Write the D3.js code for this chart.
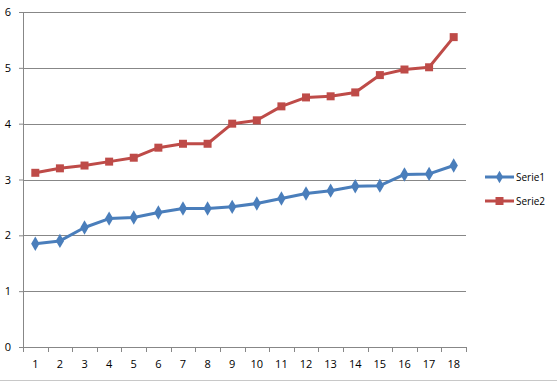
<!DOCTYPE html>
<html>
<head>
<meta charset="utf-8">
<script src="https://cdn.jsdelivr.net/npm/d3@7"></script>
<style>
  body { margin: 0; background: #fff; }
  text { font-family: "Open Sans", "Liberation Sans", sans-serif; fill: #000; }
</style>
</head>
<body>
<div id="chart"></div>
<script>
// Data
const categories = d3.range(1, 19).map(String);
const serie1 = [1.85, 1.90, 2.14, 2.30, 2.32, 2.41, 2.48, 2.48, 2.51, 2.57, 2.66, 2.75, 2.80, 2.88, 2.89, 3.09, 3.10, 3.25];
const serie2 = [3.12, 3.20, 3.25, 3.32, 3.39, 3.57, 3.64, 3.64, 4.00, 4.06, 4.31, 4.47, 4.49, 4.56, 4.87, 4.97, 5.01, 5.55];
const seriesNames = ['Serie1', 'Serie2'];
const yTicks = [0, 1, 2, 3, 4, 5, 6];

const W = 557, H = 381;
const margin = { top: 12, left: 23, right: 91, bottom: 34 };
const width = W - margin.left - margin.right,
  height = H - margin.top - margin.bottom;

const svg = d3.select('#chart').append('svg')
  .attr('width', W).attr('height', H);

// chart border (bottom edge visible)
svg.append('line')
  .attr('x1', 0).attr('x2', W).attr('y1', H - 0.5).attr('y2', H - 0.5)
  .attr('stroke', '#c8c8c8');

const g = svg.append('g')
  .attr('transform', 'translate(' + margin.left + ',' + margin.top + ')');

const x = d3.scaleBand().domain(categories).range([0, width]);
const y = d3.scaleLinear().domain([0, 6]).range([height, 0]);

// gridlines
g.selectAll('.grid')
  .data(yTicks.filter(d => d > 0))
  .enter().append('line')
  .attr('x1', 0).attr('x2', width)
  .attr('y1', d => Math.round(y(d)) + 0.5).attr('y2', d => Math.round(y(d)) + 0.5)
  .attr('stroke', '#878787');

// Y axis
const yAxis = g.append('g')
  .call(d3.axisLeft(y).tickValues(yTicks).tickFormat(d3.format('d')).tickSize(4).tickPadding(8))
  .attr('font-size', 11);
yAxis.selectAll('line,path').attr('stroke', '#878787');
yAxis.select('.domain').attr('d', 'M-4,0.5H0.5V' + (height + 0.5));
yAxis.selectAll('text').attr('fill', '#000');

// X axis with ticks at band boundaries
const xAxis = g.append('g')
  .attr('transform', 'translate(0,' + height + ')');
xAxis.append('line')
  .attr('x1', 0).attr('x2', width).attr('y1', 0.5).attr('y2', 0.5)
  .attr('stroke', '#878787');
xAxis.selectAll('.tk')
  .data(categories.concat(['end']))
  .enter().append('line')
  .attr('x1', (d, i) => Math.round(i * x.step()) + 0.5)
  .attr('x2', (d, i) => Math.round(i * x.step()) + 0.5)
  .attr('y1', 0).attr('y2', 5)
  .attr('stroke', '#878787');
xAxis.selectAll('.lbl')
  .data(categories)
  .enter().append('text')
  .attr('x', d => x(d) + x.bandwidth() / 2)
  .attr('y', 21)
  .attr('text-anchor', 'middle')
  .attr('font-size', 11)
  .text(d => d);

// lines
const colors = ['#4a7ebb', '#be4b48'];
const allSeries = [serie1, serie2];
const line = d3.line()
  .x((d, i) => x(categories[i]) + x.bandwidth() / 2)
  .y(d => y(d));

allSeries.forEach((s, k) => {
  g.append('path')
    .datum(s)
    .attr('fill', 'none')
    .attr('stroke', colors[k])
    .attr('stroke-width', 3)
    .attr('stroke-linejoin', 'round')
    .attr('d', line);
  const sym = d3.symbol().type(k === 0 ? d3.symbolDiamond : d3.symbolSquare).size(k === 0 ? 60 : 64);
  g.selectAll('.m' + k)
    .data(s)
    .enter().append('path')
    .attr('transform', (d, i) => 'translate(' + (x(categories[i]) + x.bandwidth() / 2) + ',' + y(d) + ')')
    .attr('d', sym)
    .attr('fill', colors[k]);
});

// legend
const legend = svg.selectAll('g.legend')
  .data(seriesNames)
  .enter().append('g')
  .attr('class', 'legend')
  .attr('transform', (d, i) => 'translate(485,' + (177 + i * 24) + ')');
legend.append('line')
  .attr('x1', 0).attr('x2', 29).attr('y1', 0).attr('y2', 0)
  .attr('stroke', (d, i) => colors[i]).attr('stroke-width', 3);
legend.append('path')
  .attr('transform', 'translate(14.5,0)')
  .attr('d', (d, i) => d3.symbol().type(i === 0 ? d3.symbolDiamond : d3.symbolSquare).size(i === 0 ? 45 : 64)())
  .attr('fill', (d, i) => colors[i]);
legend.append('text')
  .attr('x', 31).attr('y', 4)
  .attr('font-size', 10)
  .text(d => d);
</script>
</body>
</html>
